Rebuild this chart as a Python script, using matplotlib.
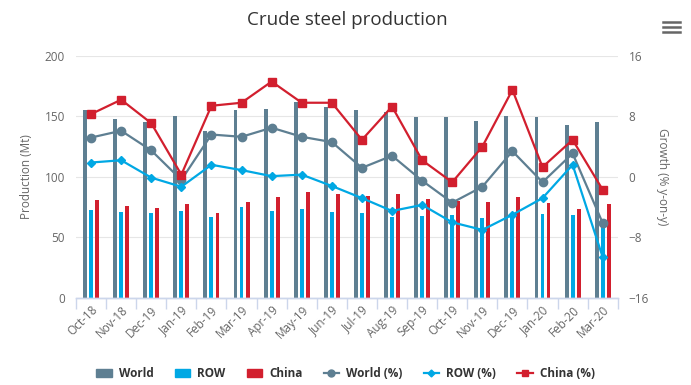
#!/usr/bin/env python3
"""Crude steel production: monthly output (bars) and y-on-y growth (lines)."""

import matplotlib

matplotlib.use("Agg")
import matplotlib.pyplot as plt
import numpy as np
from matplotlib.lines import Line2D
from matplotlib.patches import Patch

plt.rcParams.update(
    {
        "font.family": ["Open Sans", "DejaVu Sans"],
        "axes.linewidth": 1.0,
    }
)

WORLD_C = "#5E7F92"
ROW_C = "#00A8E4"
CHINA_C = "#D21F2E"
GRID = "#E6E6E6"
AXIS = "#CCD6EB"
LABEL = "#666666"
INK = "#333333"

months = [
    "Oct-18", "Nov-18", "Dec-19", "Jan-19", "Feb-19", "Mar-19",
    "Apr-19", "May-19", "Jun-19", "Jul-19", "Aug-19", "Sep-19",
    "Oct-19", "Nov-19", "Dec-19", "Jan-20", "Feb-20", "Mar-20",
]

# production, Mt
world = [155, 148, 145, 150, 138, 155, 156, 162, 158,
         155, 154, 149.5, 149.5, 146, 150, 149.5, 143, 145.5]
row = [72.6, 71, 70, 71.7, 67, 75, 71.7, 73.4, 71,
       70, 67, 67.6, 68.4, 66, 70, 69.2, 68.4, 59.3]
china = [81, 76, 74.2, 77.5, 70, 79.2, 83.3, 87.4, 85.8,
         84, 85.8, 81.7, 80, 79.2, 83.3, 78.3, 73.4, 77.5]

# growth, % y-on-y
world_pct = [5.2, 6.1, 3.5, -0.4, 5.6, 5.3, 6.5, 5.3, 4.6,
             1.2, 2.8, -0.5, -3.4, -1.3, 3.4, -0.7, 3.1, -6.1]
row_pct = [1.9, 2.2, -0.1, -1.3, 1.6, 0.9, 0.1, 0.3, -1.2,
           -2.8, -4.5, -3.7, -6.0, -7.0, -5.0, -2.8, 1.6, -10.6]
china_pct = [8.3, 10.2, 7.1, 0.3, 9.4, 9.8, 12.6, 9.8, 9.8,
             4.9, 9.3, 2.2, -0.7, 4.0, 11.5, 1.3, 4.9, -1.7]


def main() -> None:
    fig = plt.figure(figsize=(6.91, 3.85), dpi=100, facecolor="white")
    ax = fig.add_axes([0.110, 0.226, 0.784, 0.629])
    ax2 = ax.twinx()

    x = np.arange(len(months))
    w = 0.13
    ax.bar(x - 0.2, world, w, color=WORLD_C, zorder=2)
    ax.bar(x, row, w, color=ROW_C, zorder=2)
    ax.bar(x + 0.2, china, w, color=CHINA_C, zorder=2)

    ax.set_xlim(-0.5, len(months) - 0.5)
    ax.set_ylim(0, 200)
    ax.set_yticks([0, 50, 100, 150, 200])
    ax.grid(True, axis="y", color=GRID, lw=0.8)
    ax.set_axisbelow(True)
    ax.set_ylabel("Production (Mt)", color=LABEL, fontsize=8.5, labelpad=8)

    ax2.plot(x, world_pct, color=WORLD_C, lw=1.6, marker="o", ms=6, zorder=3)
    ax2.plot(x, row_pct, color=ROW_C, lw=1.6, marker="D", ms=3.8, zorder=3)
    ax2.plot(x, china_pct, color=CHINA_C, lw=1.6, marker="s", ms=6, zorder=3)
    ax2.set_ylim(-16, 16)
    ax2.set_yticks([-16, -8, 0, 8, 16])
    ax2.set_ylabel("Growth (% y-on-y)", color=LABEL, fontsize=8.5,
                   rotation=270, labelpad=14)

    for a in (ax, ax2):
        for side in ("top", "left", "right"):
            a.spines[side].set_visible(False)
        a.spines["bottom"].set_color(AXIS)
        a.tick_params(axis="y", length=0, labelsize=8.5, labelcolor=LABEL, pad=8)

    ax.set_xticks(x)
    ax.set_xticklabels(months, rotation=45, ha="right", rotation_mode="anchor",
                       fontsize=8.5, color=LABEL)
    ax.tick_params(axis="x", length=0, pad=4)
    ax.set_xticks(np.arange(-0.5, len(months)), minor=True)
    ax.tick_params(axis="x", which="minor", length=8, color=AXIS, width=1)

    ax.set_title("Crude steel production", fontsize=13.5, color=INK, pad=22)

    handles = [
        Patch(color=WORLD_C, label="World"),
        Patch(color=ROW_C, label="ROW"),
        Patch(color=CHINA_C, label="China"),
        Line2D([], [], color=WORLD_C, lw=1.6, marker="o", ms=5, label="World (%)"),
        Line2D([], [], color=ROW_C, lw=1.6, marker="D", ms=3.5, label="ROW (%)"),
        Line2D([], [], color=CHINA_C, lw=1.6, marker="s", ms=5, label="China (%)"),
    ]
    fig.legend(handles=handles, loc="center", bbox_to_anchor=(0.5, 0.03),
               ncol=6, frameon=False, prop={"weight": "bold", "size": 8.5},
               labelcolor=INK, handlelength=1.3, handletextpad=0.6,
               columnspacing=1.8)

    # context-menu icon, top right
    for yy in (0.943, 0.930, 0.917):
        fig.add_artist(Line2D([0.960, 0.984], [yy, yy], color="#666666", lw=1.8,
                              transform=fig.transFigure))

    fig.savefig("out.png", dpi=100, facecolor="white")
    plt.close(fig)


if __name__ == "__main__":
    main()
